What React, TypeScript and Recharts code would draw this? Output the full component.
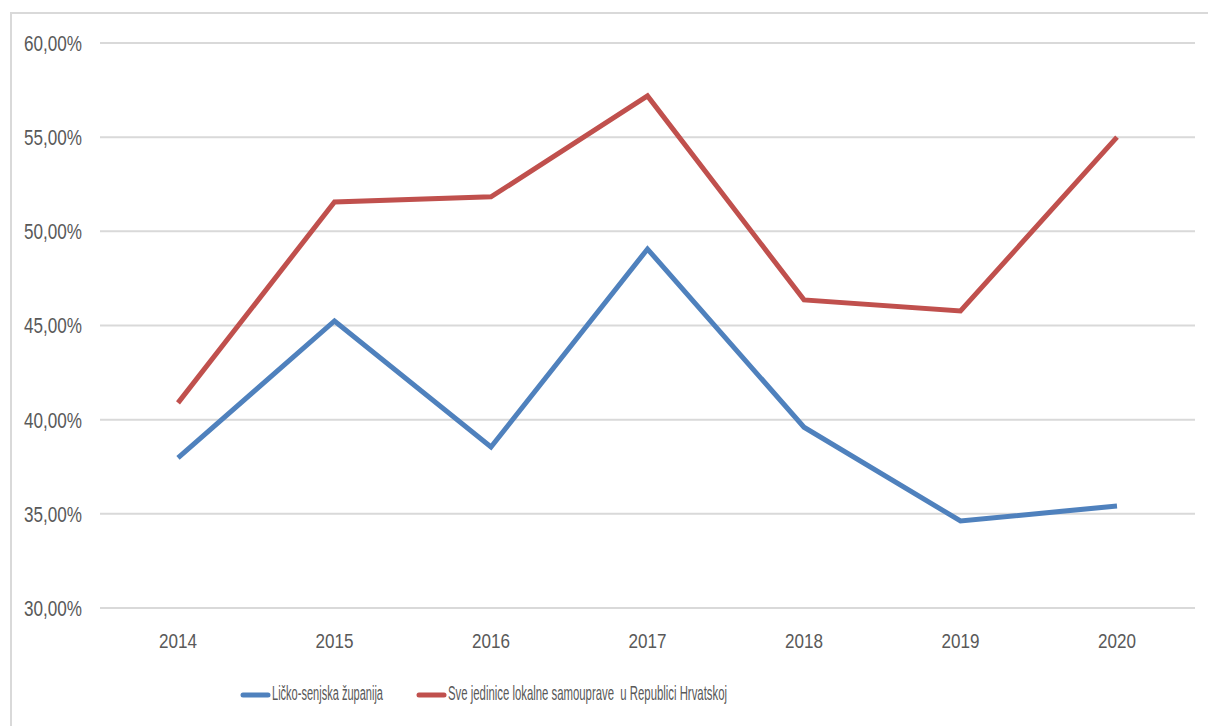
import React from "react";
import { LineChart, Line, XAxis, YAxis, CartesianGrid, Legend } from "recharts";

const years = ["2014", "2015", "2016", "2017", "2018", "2019", "2020"];
const licko = [37.97, 45.24, 38.55, 49.06, 39.6, 34.62, 35.42];
const sve = [40.89, 51.56, 51.83, 57.19, 46.36, 45.77, 55.0];
const yTicks = [30, 35, 40, 45, 50, 55, 60];
const seriesNames = ["Ličko-senjska županija", "Sve jedinice lokalne samouprave  u Republici Hrvatskoj"];

const data = years.map((y, i) => ({ year: y, licko: licko[i], sve: sve[i] }));

const FONT = "'Liberation Sans', Arial, sans-serif";
const TXT = "#595959";
const fmt = (v: number) => v.toFixed(2).replace(".", ",") + "%";

const YTick = (props: any) => {
  const { x, y, payload } = props;
  const sx = 0.78;
  return (
    <g transform={`translate(${x},${y}) scale(${sx},1)`}>
      <text x={0} y={0} dy="0.36em" textAnchor="end" fontFamily={FONT} fontSize={22} fill={TXT}
        textLength={58 / sx} lengthAdjust="spacingAndGlyphs">{fmt(payload.value)}</text>
    </g>
  );
};

const XTick = (props: any) => {
  const { x, y, payload } = props;
  const sx = 0.78;
  return (
    <g transform={`translate(${x},${y}) scale(${sx},1)`}>
      <text x={0} y={0} dy="0.36em" textAnchor="middle" fontFamily={FONT} fontSize={21} fill={TXT}
        textLength={38 / sx} lengthAdjust="spacingAndGlyphs">{payload.value}</text>
    </g>
  );
};

const legendLayout = [
  { lx: 243, tx: 272, tl: 111, sx: 0.526 },
  { lx: 419, tx: 448, tl: 279, sx: 0.541 },
];

const LegendContent = (props: any) => {
  const { payload } = props;
  return (
    <svg width={1208} height={42} style={{ display: "block", overflow: "visible" }}>
      {(payload || []).map((p: any, i: number) => {
        const L = legendLayout[i];
        return (
          <g key={i}>
            <line x1={L.lx} y1={23} x2={L.lx + 25} y2={23} stroke={p.color} strokeWidth={5} strokeLinecap="round" />
            <g transform={`translate(${L.tx},28) scale(${L.sx},1)`}>
              <text x={0} y={0} fontFamily={FONT} fontSize={21} fill={TXT} textLength={L.tl / L.sx}
                lengthAdjust="spacingAndGlyphs" xmlSpace="preserve" style={{ whiteSpace: "pre" }}>{p.value}</text>
            </g>
          </g>
        );
      })}
    </svg>
  );
};

export default function App() {
  return (
    <div style={{ position: "absolute", left: 0, top: 0, width: 1208, height: 726, background: "#fff", overflow: "hidden" }}>
      <div style={{ position: "absolute", left: 10, top: 12, width: 1198, height: 714, borderTop: "2px solid #d9d9d9", borderLeft: "2px solid #d9d9d9", boxSizing: "border-box" }} />
      <div style={{ position: "absolute", left: 0, top: 0 }}>
        <LineChart width={1208} height={726} data={data} margin={{ top: 43, right: 13, left: 0, bottom: 14 }}>
          <CartesianGrid horizontal vertical={false} stroke="#d9d9d9" strokeWidth={2} />
          <XAxis dataKey="year" axisLine={false} tickLine={false} tickSize={0} tickMargin={32} height={62}
            padding={{ left: 78, right: 78 }} tick={<XTick />} />
          <YAxis domain={[30, 60]} ticks={yTicks} width={100} axisLine={false} tickLine={false} tickSize={0} tickMargin={18}
            tick={<YTick />} />
          <Legend verticalAlign="bottom" height={42} content={<LegendContent />}
            wrapperStyle={{ position: "absolute", left: 0, top: 672, width: 1208, height: 42 }} />
          <Line type="linear" dataKey="licko" name={seriesNames[0]} stroke="#4f81bd" strokeWidth={5} dot={false} isAnimationActive={false} />
          <Line type="linear" dataKey="sve" name={seriesNames[1]} stroke="#c0504d" strokeWidth={5} dot={false} isAnimationActive={false} />
        </LineChart>
      </div>
    </div>
  );
}
